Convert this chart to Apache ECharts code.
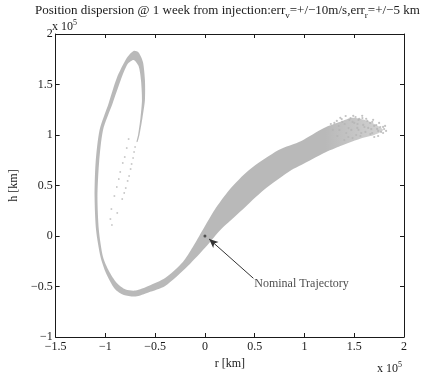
<!DOCTYPE html>
<html>
<head>
<meta charset="utf-8">
<script src="https://cdn.jsdelivr.net/npm/echarts@6/dist/echarts.min.js"></script>
<style>
  html, body { margin: 0; padding: 0; background: #fff; }
  #chart { width: 422px; height: 376px; }
</style>
</head>
<body>
<div id="chart"></div>
<script>
// All positions are in units of 10^5 km: r (radial) on x, h (along-track) on y.

// Axis ranges and tick spacing
const xRange = [-1.5, 2];
const yRange = [-1, 2];
const tickStep = 0.5;

// Outline of the dispersion cloud: outer / lower edge, from the far end
// of the rising branch, round the bottom of the loop, up the left side, over
// the top and down the right side of the loop.
const cloudOuterEdge = [
  [1.790, 1.050], [1.700, 1.000], [1.600, 0.975], [1.480, 0.935], [1.361, 0.891],
  [1.196, 0.822], [0.968, 0.703],
  [0.869, 0.653], [0.591, 0.455], [0.373, 0.257], [0.155, 0.059], [0.026, -0.089],
  [-0.172, -0.297], [-0.400, -0.495], [-0.568, -0.559], [-0.697, -0.599], [-0.816, -0.584],
  [-0.905, -0.525], [-0.995, -0.366], [-1.049, -0.208], [-1.094, 0.059], [-1.109, 0.386],
  [-1.099, 0.723], [-1.059, 1.050], [-0.970, 1.307], [-0.886, 1.564], [-0.786, 1.762],
  [-0.717, 1.832], [-0.667, 1.817], [-0.623, 1.723], [-0.603, 1.545], [-0.603, 1.347],
  [-0.628, 1.168], [-0.658, 1.000], [-0.678, 0.931]
];
// Inner / upper edge, walked back the other way.
const cloudInnerEdge = [
  [-0.688, 0.931], [-0.672, 1.000], [-0.648, 1.168], [-0.633, 1.347], [-0.643, 1.545],
  [-0.667, 1.683], [-0.717, 1.743], [-0.777, 1.703], [-0.846, 1.545], [-0.930, 1.307],
  [-1.024, 1.050], [-1.064, 0.723], [-1.080, 0.386], [-1.066, 0.059], [-1.024, -0.208],
  [-0.965, -0.347], [-0.886, -0.465], [-0.796, -0.530], [-0.697, -0.540], [-0.568, -0.495],
  [-0.400, -0.416], [-0.222, -0.257], [-0.122, -0.109], [-0.023, 0.059], [0.096, 0.257],
  [0.244, 0.455], [0.443, 0.653], [0.740, 0.851], [0.968, 0.941], [1.196, 1.069],
  [1.361, 1.130], [1.480, 1.170], [1.600, 1.150], [1.720, 1.100]
];

// Sparse samples trailing down inside the loop
const loopTrail = [
  [-0.702, 0.881], [-0.712, 0.832], [-0.722, 0.772], [-0.737, 0.713], [-0.747, 0.663],
  [-0.762, 0.594], [-0.777, 0.545], [-0.796, 0.475], [-0.811, 0.426], [-0.831, 0.366],
  [-0.767, 0.960], [-0.786, 0.871], [-0.806, 0.782], [-0.826, 0.723], [-0.851, 0.634],
  [-0.866, 0.564], [-0.886, 0.485], [-0.910, 0.396], [-0.940, 0.267], [-0.881, 0.228],
  [-0.950, 0.168], [-0.935, 0.109]
];

// Scattered samples at the far end of the rising branch
const farEndSamples = [
  [1.265, 1.109], [1.325, 1.139], [1.374, 1.158], [1.414, 1.188], [1.463, 1.168],
  [1.513, 1.178], [1.543, 1.149], [1.582, 1.168], [1.632, 1.139], [1.681, 1.129],
  [1.721, 1.099], [1.761, 1.079], [1.800, 1.059], [1.820, 1.040], [1.790, 1.020],
  [1.741, 1.040], [1.671, 1.059], [1.602, 1.079], [1.533, 1.109], [1.483, 1.129],
  [1.404, 1.109], [1.344, 1.089], [1.285, 1.050], [1.662, 1.010], [1.562, 0.990],
  [1.483, 0.970], [1.543, 1.050], [1.612, 1.030], [1.701, 0.980], [1.443, 1.069],
  [1.300, 1.120], [1.350, 1.050], [1.380, 1.130], [1.420, 1.020], [1.450, 1.150],
  [1.470, 1.050], [1.500, 1.120], [1.520, 1.000], [1.550, 1.160], [1.570, 1.020],
  [1.590, 1.100], [1.620, 1.160], [1.640, 1.070], [1.660, 1.120], [1.680, 1.020],
  [1.700, 1.090], [1.730, 1.060], [1.750, 1.120], [1.770, 1.030], [1.790, 1.080],
  [1.360, 1.170], [1.400, 0.950], [1.490, 1.190], [1.580, 1.190], [1.690, 1.150],
  [1.740, 0.990], [1.810, 1.090], [1.330, 0.990], [1.440, 0.980], [1.530, 1.070]
];

// Nominal trajectory point and its annotation
const nominalPoint = [0, 0];
const arrowFrom = [0.487, -0.419];
const arrowTo = [0.042, -0.030];
const annotationAnchor = [0.490, -0.475];
const annotationText = 'Nominal Trajectory';

const cloudOutline = cloudOuterEdge.concat(cloudInnerEdge);

const SERIF = '"Liberation Serif", "DejaVu Serif", serif';
const INK = '#1a1a1a';
const CLOUD = '#b9b9b9';

const fmtTick = v => String(v).replace('-', '\u2212');

const chart = echarts.init(document.getElementById('chart'), null, { renderer: 'canvas' });

const baseAxis = {
  interval: tickStep,
  axisLine: { show: true, onZero: false, lineStyle: { color: INK, width: 1 } },
  axisTick: { show: true, inside: true, length: 4, lineStyle: { color: INK } },
  splitLine: { show: false },
  axisLabel: { show: false }
};

const powerLabel = {
  fontFamily: SERIF, fontSize: 12, fill: INK,
  rich: { sup: { fontFamily: SERIF, fontSize: 8, fill: INK, padding: [0, 0, 7, 0] } }
};

// the cloud thins out towards the far end of the rising branch
const cloudFill = new echarts.graphic.LinearGradient(0, 0, 1, 0, [
  { offset: 0, color: CLOUD },
  { offset: 0.8, color: CLOUD },
  { offset: 1, color: '#d2d2d2' }
]);

chart.setOption({
  animation: false,
  backgroundColor: '#fff',
  title: {
    text: 'Position dispersion @ 1 week from injection:err{s|v}=+/\u221210m/s,err{s|r}=+/\u22125 km',
    left: 35, top: 2, padding: 0,
    textStyle: {
      fontFamily: SERIF, fontSize: 13, fontWeight: 'normal', color: INK,
      rich: { s: { fontFamily: SERIF, fontSize: 9, color: INK, padding: [9, 0, 0, 0] } }
    }
  },
  grid: { left: 51, right: 18, top: 34, bottom: 39, containLabel: false },
  xAxis: [
    Object.assign({}, baseAxis, {
      type: 'value', position: 'bottom', min: xRange[0], max: xRange[1],
      axisLabel: { show: true, margin: 4, fontFamily: SERIF, fontSize: 12, color: INK, formatter: fmtTick },
      name: 'r [km]', nameLocation: 'middle', nameGap: 17,
      nameTextStyle: { fontFamily: SERIF, fontSize: 12, color: INK }
    }),
    Object.assign({}, baseAxis, { type: 'value', position: 'top', min: xRange[0], max: xRange[1] })
  ],
  yAxis: [
    Object.assign({}, baseAxis, {
      type: 'value', position: 'left', min: yRange[0], max: yRange[1],
      axisLabel: { show: true, margin: 3, fontFamily: SERIF, fontSize: 12, color: INK, formatter: fmtTick },
      name: 'h [km]', nameLocation: 'middle', nameGap: 27, nameRotate: 90,
      nameTextStyle: { fontFamily: SERIF, fontSize: 12, color: INK }
    }),
    Object.assign({}, baseAxis, { type: 'value', position: 'right', min: yRange[0], max: yRange[1] })
  ],
  graphic: [
    { type: 'text', left: 52, top: 19, silent: true,
      style: Object.assign({ text: 'x 10{sup|5}' }, powerLabel) },
    { type: 'text', left: 377, top: 361, silent: true,
      style: Object.assign({ text: 'x 10{sup|5}' }, powerLabel) }
  ],
  series: [
    {
      // body of the dispersion cloud
      type: 'custom',
      data: [0],
      clip: true,
      renderItem: function (params, api) {
        const pts = cloudOutline.map(p => api.coord(p));
        return { type: 'polygon', shape: { points: pts, smooth: 0.25 },
                 style: { fill: cloudFill, stroke: null } };
      },
      silent: true, z: 2
    },
    {
      type: 'scatter', data: loopTrail, symbol: 'rect', symbolSize: 1.6,
      itemStyle: { color: '#b3b3b3' }, silent: true, z: 2
    },
    {
      type: 'scatter', data: farEndSamples, symbol: 'circle', symbolSize: 2.2,
      itemStyle: { color: '#b4b4b4' }, silent: true, z: 3
    },
    {
      type: 'scatter', data: [nominalPoint], symbolSize: 3,
      itemStyle: { color: '#333' }, silent: true, z: 4,
      markLine: {
        silent: true, animation: false,
        symbol: ['none', 'arrow'], symbolSize: [6, 9],
        lineStyle: { color: '#333', width: 1, type: 'solid' },
        label: { show: false },
        data: [[{ coord: arrowFrom }, { coord: arrowTo }]]
      }
    },
    {
      type: 'scatter', data: [annotationAnchor], symbolSize: 1,
      itemStyle: { color: 'rgba(0,0,0,0)' }, silent: true, z: 4,
      label: { show: true, position: 'right', distance: 0, formatter: annotationText,
               fontFamily: SERIF, fontSize: 12, color: INK }
    }
  ]
});
</script>
</body>
</html>
